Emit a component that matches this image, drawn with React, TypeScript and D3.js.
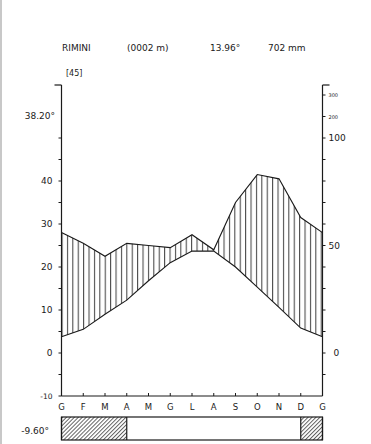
import React from 'react';
import * as d3 from 'd3';

// Diagramma climatico di Walter-Lieth, Rimini
const months = ['G', 'F', 'M', 'A', 'M', 'G', 'L', 'A', 'S', 'O', 'N', 'D', 'G'];
const temperature = [3.8, 5.5, 9.0, 12.3, 16.8, 21.0, 23.7, 23.7, 20.0, 15.3, 10.6, 5.8];
const precipitation = [56, 51, 45, 51, 50, 49, 55, 48, 70, 83, 81, 63];
const frostMonths = [0, 1, 2, 11];

const tempTicks = d3.range(-10, 51, 5);
const tempLabels = [-10, 0, 10, 20, 30, 40];
const precipTicks = [-10, 0, 10, 20, 30, 40, 50, 60, 70, 80, 90, 100, 200, 300];
const precipLabels = [0, 50, 100, 200, 300];

const header = { station: 'RIMINI', altitude: '(0002 m)', meanT: '13.96°', totalP: '702 mm', years: '[45]' };
const absMax = '38.20°';
const absMin = '-9.60°';

const W = 371;
const H = 444;
const FONT = 'DejaVu Sans, sans-serif';
const INK = '#1a1a1a';

const x = d3.scaleLinear().domain([0, 12]).range([61.5, 322.5]);
const yT = d3.scaleLinear().domain([0, 10]).range([353, 310]);
// 20 mm = 10 °C, sopra 100 mm scala ridotta 1/10
const yP = (p: number) => (p <= 100 ? yT(p / 2) : yT(50 + (p - 100) / 20));

const TOP = 85;
const BOTTOM = yT(-10);

export default function App() {
  const tVals = [...temperature, temperature[0]];
  const pVals = [...precipitation, precipitation[0]];

  const tLine = d3.line<number>().x((_, i) => x(i)).y(d => yT(d))(tVals)!;
  const pLine = d3.line<number>().x((_, i) => x(i)).y(d => yP(d))(pVals)!;
  const aboveTemp = d3.area<number>().x((_, i) => x(i)).y0(TOP - 20).y1(d => yT(d))(tVals)!;
  const belowPrecip = d3.area<number>().x((_, i) => x(i)).y0(BOTTOM).y1(d => yP(d))(pVals)!;

  const xl = x(0);
  const xr = x(12);
  const barTop = 417;
  const barBottom = 440;

  return (
    <svg width={W} height={H} style={{ position: 'absolute', left: 0, top: 0, background: '#fff' }}
      fontFamily={FONT}>
      <defs>
        <pattern id="vhatch" patternUnits="userSpaceOnUse" width={5.4} height={10} x={xl}>
          <line x1={0.6} x2={0.6} y1={0} y2={10} stroke={INK} strokeWidth={0.9} />
        </pattern>
        <pattern id="dhatch" patternUnits="userSpaceOnUse" width={2.8} height={10} patternTransform="rotate(45)">
          <line x1={0.5} x2={0.5} y1={0} y2={10} stroke={INK} strokeWidth={0.7} />
        </pattern>
        <clipPath id="clipAbove">
          <path d={aboveTemp} />
        </clipPath>
      </defs>

      <line x1={1} x2={1} y1={0} y2={H} stroke="#c8c8c8" strokeWidth={2} />

      {/* intestazione */}
      <g fontSize={9} fill={INK}>
        <text x={62} y={51}>{header.station}</text>
        <text x={127} y={51}>{header.altitude}</text>
        <text x={210} y={51}>{header.meanT}</text>
        <text x={268} y={51}>{header.totalP}</text>
        <text x={66} y={76} fontSize={8}>{header.years}</text>
        <text x={55} y={119} textAnchor="end">{absMax}</text>
        <text x={49} y={434} textAnchor="end">{absMin}</text>
      </g>

      {/* periodo umido */}
      <path d={belowPrecip} fill="url(#vhatch)" clipPath="url(#clipAbove)" />
      <path d={tLine} fill="none" stroke={INK} strokeWidth={1.1} />
      <path d={pLine} fill="none" stroke={INK} strokeWidth={1.1} />

      {/* asse temperature */}
      <line x1={xl} x2={xl} y1={TOP} y2={BOTTOM} stroke={INK} strokeWidth={1.2} />
      <line x1={xl - 7} x2={xl} y1={TOP} y2={TOP} stroke={INK} strokeWidth={1.2} />
      {tempTicks.map(t => (
        <line key={t} x1={xl - 3} x2={xl} y1={yT(t)} y2={yT(t)} stroke={INK} strokeWidth={1} />
      ))}
      {tempLabels.map(t => (
        <text key={t} x={xl - 9} y={yT(t) + 3} textAnchor="end" fontSize={t === -10 ? 7.5 : 9} fill={INK}>{t}</text>
      ))}

      {/* asse precipitazioni */}
      <line x1={xr} x2={xr} y1={TOP} y2={BOTTOM} stroke={INK} strokeWidth={1.2} />
      <line x1={xr} x2={xr + 7} y1={TOP} y2={TOP} stroke={INK} strokeWidth={1.2} />
      {precipTicks.map(p => (
        <line key={p} x1={xr} x2={xr + 3} y1={yP(p)} y2={yP(p)} stroke={INK} strokeWidth={1} />
      ))}
      {precipLabels.map(p => (
        <text key={p} x={p > 100 ? xr + 6 : p === 0 ? xr + 11 : xr + 6} y={yP(p) + (p > 100 ? 2 : 3)}
          fontSize={p > 100 ? 5 : 9} fill={INK}>{p}</text>
      ))}

      {/* asse mesi */}
      <line x1={xl} x2={xr} y1={BOTTOM} y2={BOTTOM} stroke={INK} strokeWidth={1.2} />
      {months.map((m, i) => (
        <g key={i}>
          <line x1={x(i)} x2={x(i)} y1={BOTTOM - 3} y2={BOTTOM} stroke={INK} strokeWidth={1} />
          <text x={x(i)} y={410} textAnchor="middle" fontSize={8.5} fill={INK}>{m}</text>
        </g>
      ))}

      {/* mesi con gelo */}
      {frostMonths.map(m => (
        <rect key={m} x={x(m)} y={barTop} width={x(m + 1) - x(m)} height={barBottom - barTop} fill="url(#dhatch)" />
      ))}
      <rect x={xl} y={barTop} width={xr - xl} height={barBottom - barTop} fill="none" stroke={INK} strokeWidth={1.2} />
      {frostMonths.map(m => (
        <g key={'b' + m}>
          {!frostMonths.includes(m - 1) && <line x1={x(m)} x2={x(m)} y1={barTop} y2={barBottom} stroke={INK} strokeWidth={1.2} />}
          {!frostMonths.includes(m + 1) && <line x1={x(m + 1)} x2={x(m + 1)} y1={barTop} y2={barBottom} stroke={INK} strokeWidth={1.2} />}
        </g>
      ))}
    </svg>
  );
}
